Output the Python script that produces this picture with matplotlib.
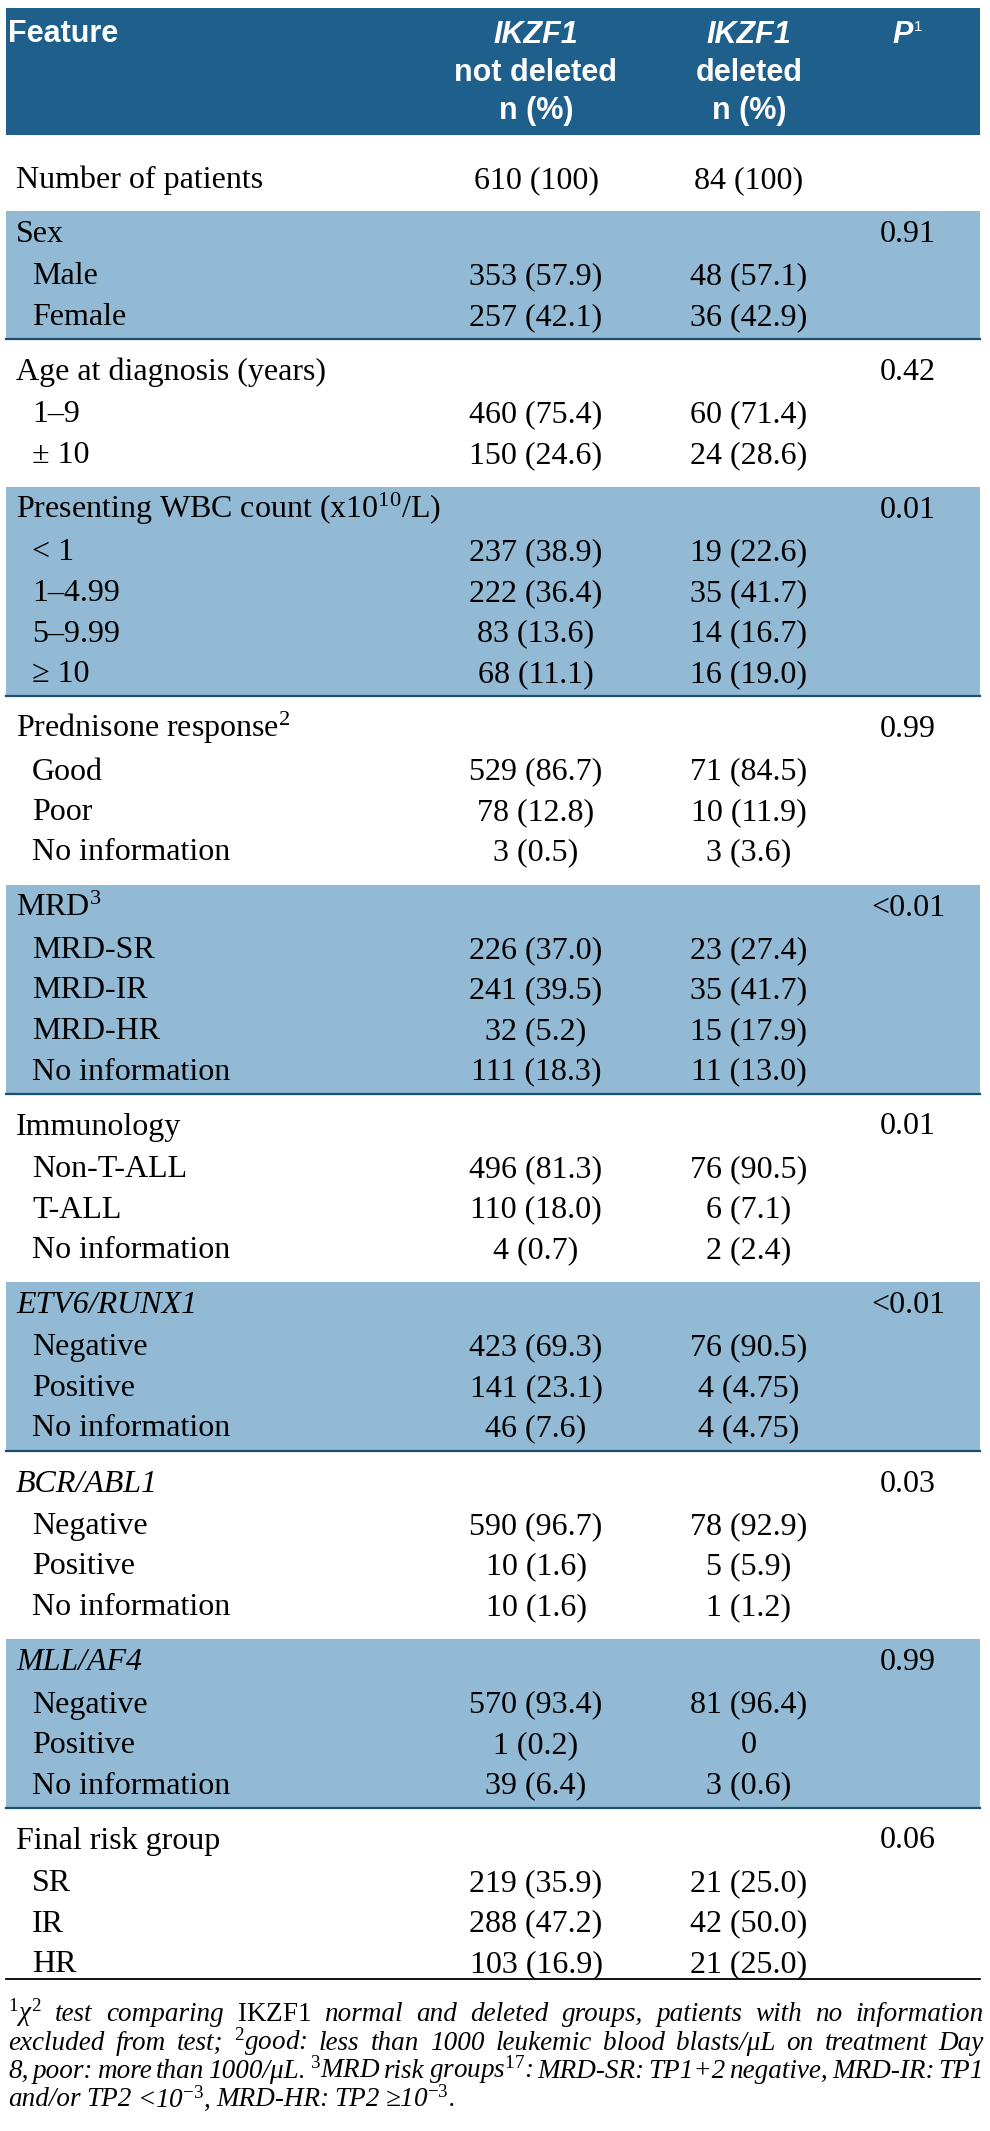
import matplotlib
matplotlib.use('Agg')
import matplotlib.pyplot as plt
from matplotlib.patches import Rectangle

plt.rcParams['font.family'] = ['Liberation Serif', 'DejaVu Serif']
plt.rcParams['mathtext.fontset'] = 'custom'
plt.rcParams['mathtext.rm'] = 'Liberation Serif'
plt.rcParams['mathtext.it'] = 'Liberation Serif:italic'
plt.rcParams['mathtext.bf'] = 'Liberation Serif:bold'

# table content
col_headers = ['IKZF1\nnot deleted\nn (%)', 'IKZF1\ndeleted\nn (%)']
n_patients = ['610 (100)', '84 (100)']

features = ['Sex', 'Age at diagnosis (years)', 'Presenting WBC count (x10$^{10}$/L)',
            'Prednisone response$^{2}$', 'MRD$^{3}$', 'Immunology',
            'ETV6/RUNX1', 'BCR/ABL1', 'MLL/AF4', 'Final risk group']
italic_feature = [False, False, False, False, False, False, True, True, True, False]

categories = [
    ['Male', 'Female'],
    ['1–9', '± 10'],
    ['< 1', '1–4.99', '5–9.99', '≥ 10'],
    ['Good', 'Poor', 'No information'],
    ['MRD-SR', 'MRD-IR', 'MRD-HR', 'No information'],
    ['Non-T-ALL', 'T-ALL', 'No information'],
    ['Negative', 'Positive', 'No information'],
    ['Negative', 'Positive', 'No information'],
    ['Negative', 'Positive', 'No information'],
    ['SR', 'IR', 'HR'],
]
not_deleted = [
    ['353 (57.9)', '257 (42.1)'],
    ['460 (75.4)', '150 (24.6)'],
    ['237 (38.9)', '222 (36.4)', '83 (13.6)', '68 (11.1)'],
    ['529 (86.7)', '78 (12.8)', '3 (0.5)'],
    ['226 (37.0)', '241 (39.5)', '32 (5.2)', '111 (18.3)'],
    ['496 (81.3)', '110 (18.0)', '4 (0.7)'],
    ['423 (69.3)', '141 (23.1)', '46 (7.6)'],
    ['590 (96.7)', '10 (1.6)', '10 (1.6)'],
    ['570 (93.4)', '1 (0.2)', '39 (6.4)'],
    ['219 (35.9)', '288 (47.2)', '103 (16.9)'],
]
deleted = [
    ['48 (57.1)', '36 (42.9)'],
    ['60 (71.4)', '24 (28.6)'],
    ['19 (22.6)', '35 (41.7)', '14 (16.7)', '16 (19.0)'],
    ['71 (84.5)', '10 (11.9)', '3 (3.6)'],
    ['23 (27.4)', '35 (41.7)', '15 (17.9)', '11 (13.0)'],
    ['76 (90.5)', '6 (7.1)', '2 (2.4)'],
    ['76 (90.5)', '4 (4.75)', '4 (4.75)'],
    ['78 (92.9)', '5 (5.9)', '1 (1.2)'],
    ['81 (96.4)', '0', '3 (0.6)'],
    ['21 (25.0)', '42 (50.0)', '21 (25.0)'],
]
p_values = ['0.91', '0.42', '0.01', '0.99', '<0.01', '0.01', '<0.01', '0.03', '0.99', '0.06']

footnote = [
    r'$^{1}\chi^{2}$ test comparing $\mathrm{IKZF1}$ normal and deleted groups, patients with no information',
    r'excluded from test; $^{2}$good: less than 1000 leukemic blood blasts/μL on treatment Day',
    r'8, poor: more than 1000/μL. $^{3}$MRD risk groups$^{17}$: MRD-SR: TP1+2 negative, MRD-IR: TP1',
    r'and/or TP2 <10$^{-3}$, MRD-HR: TP2 ≥10$^{-3}$.',
]

dark_blue = '#1f5f8b'
light_blue = '#93bad4'
rule_col = '#1b4f72'

W, H = 990, 2131
fig = plt.figure(figsize=(W / 100, H / 100), dpi=100)
ax = fig.add_axes([0, 0, 1, 1])
ax.set_xlim(0, W)
ax.set_ylim(H, 0)
ax.axis('off')

left, right = 6, 980
x_title, x_sub = 16, 32
x_c1, x_c2, x_p = 536, 749, 908
fs = 23
head_font = ['Liberation Sans Narrow', 'Liberation Sans']
hfs = 22

# header
ax.add_patch(Rectangle((left, 8), right - left, 127, color=dark_blue, lw=0))
ax.text(8, 42, 'Feature', color='white', fontsize=hfs, fontweight='bold',
        family=head_font, va='baseline')
for xc, hdr in zip([x_c1, x_c2], col_headers):
    for k, line in enumerate(hdr.split('\n')):
        ax.text(xc, 43 + 38 * k, line, color='white', fontsize=hfs, fontweight='bold',
                style='italic' if k == 0 else 'normal', family=head_font,
                ha='center', va='baseline')
ax.text(x_p + 5, 43, 'P', color='white', fontsize=hfs, fontweight='bold',
        style='italic', family=head_font, ha='right', va='baseline')
ax.text(x_p + 6, 31, '1', color='white', fontsize=11, family=head_font, va='baseline')

# number of patients
base = 11
y = 135
yc = y + 42
ax.text(x_title, yc + base, 'Number of patients', fontsize=fs, va='baseline')
ax.text(x_c1, yc + base, n_patients[0], fontsize=fs, ha='center', va='baseline')
ax.text(x_c2, yc + base, n_patients[1], fontsize=fs, ha='center', va='baseline')
y = 211

gap, pitch = 42.5, 40.5
for k, feat in enumerate(features):
    band = (k % 2 == 0)
    pad_top = 20 if band else 30
    pad_bot = 25 if band else 35
    yt = y + pad_top
    rows = [yt + gap + pitch * i for i in range(len(categories[k]))]
    bottom = rows[-1] + pad_bot
    if band:
        ax.add_patch(Rectangle((left, y), right - left, bottom - y, color=light_blue, lw=0))
        ax.plot([left, right], [bottom, bottom], color=rule_col, lw=1.6)
    ax.text(x_title, yt + base, feat, fontsize=fs, va='baseline',
            style='italic' if italic_feature[k] else 'normal')
    ax.text(x_p, yt + base, p_values[k], fontsize=fs, ha='center', va='baseline')
    for yr, cat, v1, v2 in zip(rows, categories[k], not_deleted[k], deleted[k]):
        ax.text(x_sub, yr + base, cat, fontsize=fs, va='baseline')
        ax.text(x_c1, yr + base, v1, fontsize=fs, ha='center', va='baseline')
        ax.text(x_c2, yr + base, v2, fontsize=fs, ha='center', va='baseline')
    y = bottom

y_end = rows[-1] + 18
ax.plot([left, right], [y_end, y_end], color='black', lw=1.3)

# footnote, justified except the last line
renderer = fig.canvas.get_renderer()
inv = ax.transData.inverted()
x0, x1 = 8, 984
for i, line in enumerate(footnote):
    yb = y_end + 42 + 28.5 * i
    words = line.split(' ')
    arts = [ax.text(x0, yb, w, fontsize=19.5, style='italic', va='baseline') for w in words]
    widths = []
    for a in arts:
        bb = a.get_window_extent(renderer)
        p0 = inv.transform((bb.x0, bb.y0))
        p1 = inv.transform((bb.x1, bb.y0))
        widths.append(p1[0] - p0[0])
    if i < len(footnote) - 1:
        space = (x1 - x0 - sum(widths)) / (len(words) - 1)
    else:
        space = 5.5
    xx = x0
    for a, w in zip(arts, widths):
        a.set_x(xx)
        xx += w + space

fig.savefig('out.png', dpi=100)
